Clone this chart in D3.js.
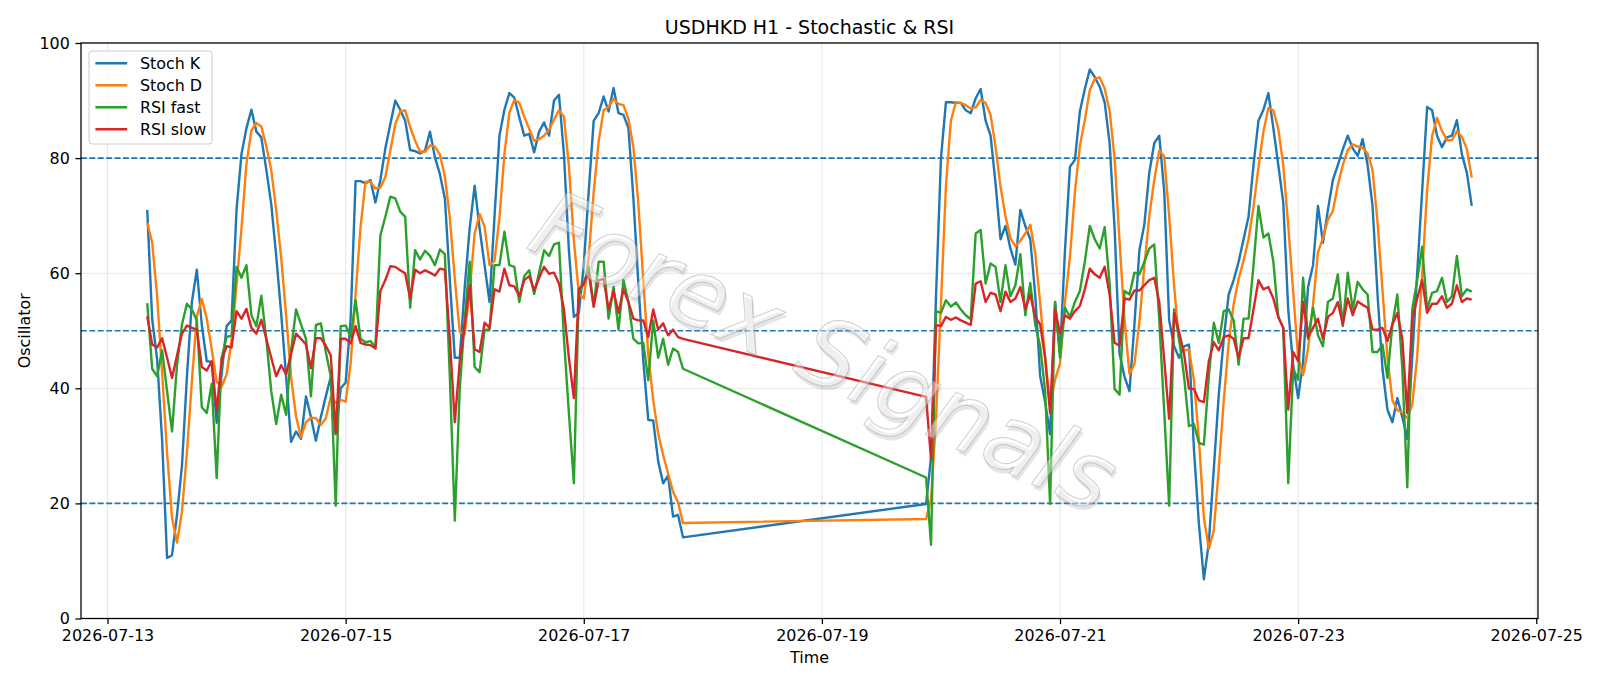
<!DOCTYPE html>
<html>
<head>
<meta charset="utf-8">
<script src="https://cdn.jsdelivr.net/npm/d3@7"></script>
<style>
 body { margin: 0; background: #fff; }
 svg { display: block; font-family: "DejaVu Sans", sans-serif; }
</style>
</head>
<body>
<svg id="chart"></svg>
<script>
const width = 1600, height = 686
const plot = {left: 81, right: 1538, top: 43, bottom: 618.5}

const chartTitle = "USDHKD H1 - Stochastic & RSI"
const watermark = "Forex Signals"
// hourly bars, market closed over the weekend
const segmentStarts = ["2026-07-13T08:00:00Z", "2026-07-19T21:00:00Z"]
const segmentLengths = [109, 111]
const tickDates = ["2026-07-13", "2026-07-15", "2026-07-17", "2026-07-19", "2026-07-21", "2026-07-23", "2026-07-25"]
const yTicks = [0, 20, 40, 60, 80, 100]
const levels = [20, 50, 80]
const seriesNames = ["Stoch K", "Stoch D", "RSI fast", "RSI slow"]
const seriesColors = ["#1f77b4", "#ff7f0e", "#2ca02c", "#d62728"]

const stochK = [
  71, 52, 45, 31, 10.5, 11, 18, 26.5, 42, 55,
  60.6, 51, 44.7, 44.6, 34, 42.4, 50.8, 51.8, 71, 80.7,
  85.2, 88.4, 84.6, 83.6, 78, 72, 63, 53, 42, 30.7,
  32.5, 31.2, 38.6, 35, 30.9, 35, 38.6, 42, 32, 40,
  41, 52, 76, 76, 75.6, 76.2, 72.3, 76.2, 81.7, 85.9,
  90, 88.4, 86.5, 81.4, 81.2, 80.8, 81.3, 84.6, 80.1, 77.2,
  73, 58.8, 45.3, 45.3, 57.6, 67.8, 75.2, 67.8, 61.4, 55,
  69.8, 83.9, 88.4, 91.3, 90.5, 87.1, 83.9, 84.2, 81, 84.6,
  86.2, 83.9, 90, 91, 80.7, 64, 52.4, 53.1, 61.4, 74.3,
  86.5, 87.8, 90.7, 88.1, 92.2, 87.8, 87.5, 85.2, 73, 58.2,
  44.7, 34.5, 34.4, 27.3, 23.5, 24.8, 17.7, 18, 14.1,
  // after the weekend
  19.9, 28, 56, 80, 89.7, 89.7, 89.6, 89.6, 88.3, 87.8,
  90.4, 92, 86.5, 83.9, 75.6, 65.9, 68.2, 64.3, 61.5, 71,
  68.2, 65.9, 56.3, 42.1, 37.6, 32, 55, 46, 64, 78.5,
  79.7, 88.1, 92, 95.4, 94.1, 92.4, 89.7, 82.6, 67.8, 46,
  42, 39.5, 51.1, 64, 68.5, 77.5, 82.6, 83.9, 74.3, 51.8,
  47.3, 45.3, 47.3, 47.6, 29.3, 16.4, 6.8, 13.2, 26, 38.9,
  48.6, 56.3, 58.8, 62, 65.9, 69.8, 78.8, 86.5, 88.4, 91.3,
  85.2, 78.8, 72.3, 53.7, 44, 38.3, 44.7, 57.6, 61.4, 71.7,
  65.3, 71, 76.2, 78.8, 81.5, 83.9, 81.7, 80.4, 83.3, 78.8,
  71.7, 56.3, 43.4, 36.3, 34.1, 38.3, 35, 31.2, 45.3, 60.1,
  74.3, 88.9, 88.3, 83.9, 81.9, 83.6, 83.9, 86.6, 80.7, 77.5, 71.7
]

const stochD = [
  68.8, 65.3, 56, 42.7, 28.8, 17.5, 13.2, 18.5, 28.8, 41.2,
  52.5, 55.5, 52.1, 46.8, 41.1, 40.3, 42.4, 48.3, 57.9, 67.8,
  79, 84.8, 86.1, 85.5, 82.1, 77.9, 71, 62.7, 52.7, 41.9,
  35.1, 31.5, 34.1, 34.9, 34.8, 33.6, 34.8, 38.5, 37.5, 38,
  37.7, 44.3, 56.3, 68, 75.9, 75.9, 74.7, 74.9, 76.7, 81.3,
  85.9, 88.1, 88.3, 85.4, 83, 81.1, 81.1, 82.2, 82, 80.6,
  76.8, 69.7, 59, 49.8, 49.4, 56.9, 66.9, 70.3, 68.1, 61.4,
  62.1, 69.6, 80.7, 87.9, 90.1, 89.6, 87.2, 85.1, 83, 83.3,
  83.9, 84.9, 86.7, 88.3, 87.2, 78.6, 65.7, 56.5, 55.6, 62.9,
  74.1, 82.9, 88.3, 88.9, 90.3, 89.4, 89.2, 86.8, 81.9, 72.1,
  58.6, 45.8, 37.9, 32.1, 28.4, 25.2, 22, 20.2, 16.6,
  17.3, 20.7, 34.6, 54.7, 75.2, 86.5, 89.7, 89.6, 89.2, 88.6,
  88.8, 90.1, 89.6, 87.5, 82, 75.1, 69.9, 66.1, 64.7, 65.6,
  66.9, 68.4, 63.5, 54.8, 45.3, 37.2, 41.5, 44.3, 55, 62.8,
  74.1, 82.1, 86.6, 91.8, 93.8, 94, 92.1, 88.2, 80, 65.5,
  51.9, 42.5, 44.2, 51.5, 61.2, 70, 76.2, 81.3, 80.3, 70,
  57.8, 48.1, 46.6, 46.7, 41.4, 31.1, 17.5, 12.1, 15.3, 26,
  37.8, 47.9, 54.6, 59, 62.2, 65.9, 71.5, 78.4, 84.6, 88.7,
  88.3, 85.1, 78.8, 68.3, 56.7, 45.3, 42.3, 46.9, 54.6, 63.6,
  66.1, 69.3, 70.8, 75.3, 78.8, 81.4, 82.4, 82, 81.8, 80.8,
  77.9, 68.9, 57.1, 45.3, 37.9, 36.2, 35.8, 34.8, 37.2, 45.5,
  59.9, 74.4, 83.8, 87, 84.7, 83.1, 83.1, 84.7, 83.7, 81.6, 76.6
]

const rsiFast = [
  54.8, 43.4, 42.1, 46.6, 39.5, 32.5, 44, 51.1, 54.7, 53.7,
  51.8, 36.7, 35.7, 40.8, 24.4, 45.3, 48.9, 49.2, 61.1, 59.2,
  61.4, 52.7, 50.8, 56.1, 48.6, 39.5, 33.8, 38.9, 35.4, 46.6,
  53.7, 51.1, 48.6, 38.6, 51, 51.3, 46.3, 42.1, 19.6, 50.8,
  50.9, 48.9, 55.3, 48.6, 48, 48.2, 47.1, 66.6, 69.8, 73.3,
  73, 70.7, 69.8, 54, 64, 62.4, 63.9, 63, 61.4, 64.1,
  63.3, 42, 17, 40, 52, 62, 43.7, 42.8, 50.2, 50.2,
  61.4, 61.4, 67.2, 61.4, 61.1, 55, 59.5, 60.5, 56.4, 60.1,
  64, 63, 65, 65.3, 48.6, 35.7, 23.5, 56.6, 58.2, 61.1,
  54.2, 62, 62, 52.1, 57.6, 50.2, 58.8, 55, 48.6, 47.8,
  47.9, 41.4, 51.8, 45.3, 48.6, 44.1, 46.9, 46.3, 43.4,
  24.5, 12.8, 53.4, 53.1, 55.3, 54.2, 54.9, 53.7, 52.7, 52,
  66.9, 67.5, 58.2, 61.7, 61.1, 55, 61.4, 56, 57.9, 63.3,
  52.7, 58.3, 51.1, 47.3, 39.5, 19.9, 55, 45.3, 54, 52.4,
  55, 56.9, 62, 68.2, 65.9, 64.3, 68, 58.2, 39.9, 38.9,
  56.9, 56.3, 60.1, 59.8, 62, 64.3, 65, 52, 36, 19.6,
  53.7, 48.6, 42.1, 33.4, 33.8, 30.5, 30.2, 42.1, 51.4, 47.9,
  53.4, 53.7, 51.8, 44.1, 52.1, 52.1, 61.4, 71.7, 66.2, 66.9,
  62, 52.4, 50.5, 23.5, 43.4, 41.5, 59.2, 48.6, 54, 49.2,
  47.3, 55, 55.6, 59.8, 50.8, 60.1, 53.7, 58.5, 57.2, 56.3,
  46.3, 46.3, 47.6, 41.8, 51.1, 56.3, 43.4, 22.8, 53.7, 58.8,
  64.6, 53.7, 56.6, 56.9, 59.2, 55, 56, 63, 56, 57.2, 56.8
]

const rsiSlow = [
  52.5, 47.6, 47.1, 48.7, 45.3, 41.8, 45.7, 49.5, 50.9, 50.5,
  50.2, 43.7, 43.1, 44.7, 36, 45, 47.3, 47.1, 53.4, 52.1,
  53.8, 50.5, 49.5, 51.9, 48.6, 45.3, 42.1, 44, 42.4, 46,
  49.5, 48.6, 47.6, 43.5, 48.7, 48.7, 47.4, 45.7, 32.2, 48.6,
  48.6, 47.8, 50.8, 47.9, 47.6, 47.5, 46.9, 56.9, 58.8, 61.2,
  61.1, 60.5, 60, 55.6, 60.6, 60, 60.5, 60.1, 59.6, 60.8,
  60.6, 48.6, 34.1, 44.7, 51, 57.9, 46.8, 46.3, 51.4, 50.5,
  57.2, 56.8, 60.8, 57.9, 57.7, 56, 58.8, 59.5, 57, 59.2,
  61.1, 59.9, 60.1, 58.2, 53.7, 45.3, 38.3, 57.2, 58.2, 60.1,
  54.2, 58.8, 59, 53.7, 56.9, 53.1, 57.2, 55, 52.1, 51.8,
  51.8, 48.9, 53.7, 50.2, 51.3, 49.2, 50.2, 48.9, 48.6,
  38.5, 27.7, 51, 50.8, 52.4, 51.9, 52.3, 51.8, 51.4, 51,
  58.2, 58.6, 55, 56.6, 56.3, 53.4, 56.8, 55, 55.6, 57.6,
  53.8, 56.3, 52.4, 51.1, 45.3, 35.7, 53.7, 49.5, 52.7, 52.1,
  53.4, 54.3, 57.2, 60.8, 59.8, 59.2, 61.1, 56.3, 47.9, 47.4,
  55.6, 55.4, 57, 57, 57.9, 58.8, 59.2, 55, 45, 34.7,
  53.1, 49.8, 46, 39.9, 39.9, 37.9, 37.6, 44.7, 48, 46.6,
  48.9, 49.2, 48.6, 45.3, 48.7, 48.7, 53.7, 58.8, 57.2, 57.6,
  55.6, 52.4, 50.5, 36.3, 46.3, 44.7, 55, 48.9, 50.5, 52.1,
  48.6, 52.4, 53.1, 55, 51.1, 55.6, 52.7, 55.1, 54.5, 54,
  50.2, 50.2, 50.5, 48.2, 51.1, 53.1, 48.6, 35.7, 52.1, 55.6,
  58.8, 53.1, 54.7, 54.7, 56, 54, 54.7, 57.9, 55, 55.6, 55.4
]

const allSeries = [stochK, stochD, rsiFast, rsiSlow]

// build the bar times
let times = []
segmentStarts.forEach(function(s, i){
     let t0 = new Date(s)
     for (let j = 0; j < segmentLengths[i]; j++){
          times.push(d3.utcHour.offset(t0, j))
     }
})

let ext = d3.extent(times)
let pad = (ext[1] - ext[0]) * 0.05   // matplotlib default margins
var x = d3.scaleUtc()
     .domain([new Date(+ext[0] - pad), new Date(+ext[1] + pad)])
     .range([plot.left, plot.right])
var y = d3.scaleLinear().domain([0, 100]).range([plot.bottom, plot.top])

var svg = d3.select("#chart").attr("width", width).attr("height", height)
svg.append("rect").attr("width", width).attr("height", height).attr("fill", "#fff")

var tickTimes = tickDates.map(function(d){ return d3.utcParse("%Y-%m-%d")(d) })

// grid
var grid = svg.append("g").attr("class", "grid")
     .attr("stroke", "#b0b0b0").attr("stroke-opacity", 0.3).attr("stroke-width", 1.1)
grid.selectAll(".gx").data(tickTimes).enter().append("line")
     .attr("x1", function(d){ return x(d) }).attr("x2", function(d){ return x(d) })
     .attr("y1", plot.top).attr("y2", plot.bottom)
grid.selectAll(".gy").data(yTicks).enter().append("line")
     .attr("x1", plot.left).attr("x2", plot.right)
     .attr("y1", function(d){ return y(d) }).attr("y2", function(d){ return y(d) })

// 20 / 50 / 80 levels
svg.append("g").selectAll("line").data(levels).enter().append("line")
     .attr("x1", plot.left).attr("x2", plot.right)
     .attr("y1", function(d){ return y(d) }).attr("y2", function(d){ return y(d) })
     .attr("stroke", "#1f77b4").attr("stroke-width", 1.6)
     .attr("stroke-dasharray", "5.9,2.5")

// series lines
var line = d3.line()
     .x(function(d, i){ return x(times[i]) })
     .y(function(d){ return y(d) })

svg.append("g").attr("class", "series").selectAll("path")
     .data(allSeries)
     .enter().append("path")
          .attr("d", function(d){ return line(d) })
          .attr("fill", "none")
          .attr("stroke", function(d, i){ return seriesColors[i] })
          .attr("stroke-width", 2.4)
          .attr("stroke-linejoin", "round")

// faint watermark on top of the lines
var cx = (plot.left + plot.right) / 2, cy = (plot.top + plot.bottom) / 2
var wm = svg.append("g").attr("class", "watermark")
     .attr("transform", "translate(" + cx + "," + cy + ") rotate(25) translate(22,12)")
     .style("font-size", "94px").style("font-style", "italic")
wm.append("text").attr("x", 3).attr("y", 3).attr("dy", "0.35em")
     .attr("text-anchor", "middle")
     .attr("fill", "#888").attr("fill-opacity", 0.22)
     .text(watermark)
wm.append("text").attr("dy", "0.35em")
     .attr("text-anchor", "middle")
     .attr("fill", "#fff").attr("fill-opacity", 0.4)
     .attr("stroke", "#a0a0a0").attr("stroke-opacity", 0.5).attr("stroke-width", 1)
     .text(watermark)

// axes
var xAxis = d3.axisBottom(x).tickValues(tickTimes)
     .tickFormat(d3.utcFormat("%Y-%m-%d")).tickSize(5.6).tickPadding(5.6).tickSizeOuter(0)
var yAxis = d3.axisLeft(y).tickValues(yTicks).tickSize(5.6).tickPadding(5.6).tickSizeOuter(0)

var gx = svg.append("g").attr("transform", "translate(0," + plot.bottom + ")").call(xAxis)
var gy = svg.append("g").attr("transform", "translate(" + plot.left + ",0)").call(yAxis)
;[gx, gy].forEach(function(g){
     g.select(".domain").remove()
     g.selectAll(".tick line").attr("stroke", "#000").attr("stroke-width", 1.27)
     g.selectAll(".tick text").attr("fill", "#000").style("font-size", "15.9px")
          .style("font-family", "DejaVu Sans")
})

// frame
svg.append("rect")
     .attr("x", plot.left).attr("y", plot.top)
     .attr("width", plot.right - plot.left).attr("height", plot.bottom - plot.top)
     .attr("fill", "none").attr("stroke", "#000").attr("stroke-width", 1.27)

// labels
svg.append("text").attr("x", cx).attr("y", 33.5)
     .attr("text-anchor", "middle").style("font-size", "19px").text(chartTitle)
svg.append("text").attr("x", cx).attr("y", 663)
     .attr("text-anchor", "middle").style("font-size", "15.9px").text("Time")
svg.append("text")
     .attr("transform", "translate(30," + cy + ") rotate(-90)")
     .attr("text-anchor", "middle").style("font-size", "15.9px").text("Oscillator")

// legend
var legend = svg.append("g").attr("class", "legend")
legend.append("rect")
     .attr("x", 89).attr("y", 51).attr("width", 123).attr("height", 93).attr("rx", 3)
     .attr("fill", "#fff").attr("fill-opacity", 0.8)
     .attr("stroke", "#cccccc").attr("stroke-width", 1)
var item = legend.selectAll(".item").data(seriesNames).enter().append("g")
     .attr("transform", function(d, i){ return "translate(0," + (i * 22) + ")" })
item.append("line")
     .attr("x1", 95.4).attr("x2", 127.2).attr("y1", 63.3).attr("y2", 63.3)
     .attr("stroke", function(d, i){ return seriesColors[i] }).attr("stroke-width", 2.4)
item.append("text").attr("x", 139.9).attr("y", 69.3)
     .style("font-size", "15.9px").text(function(d){ return d })
</script>
</body>
</html>
